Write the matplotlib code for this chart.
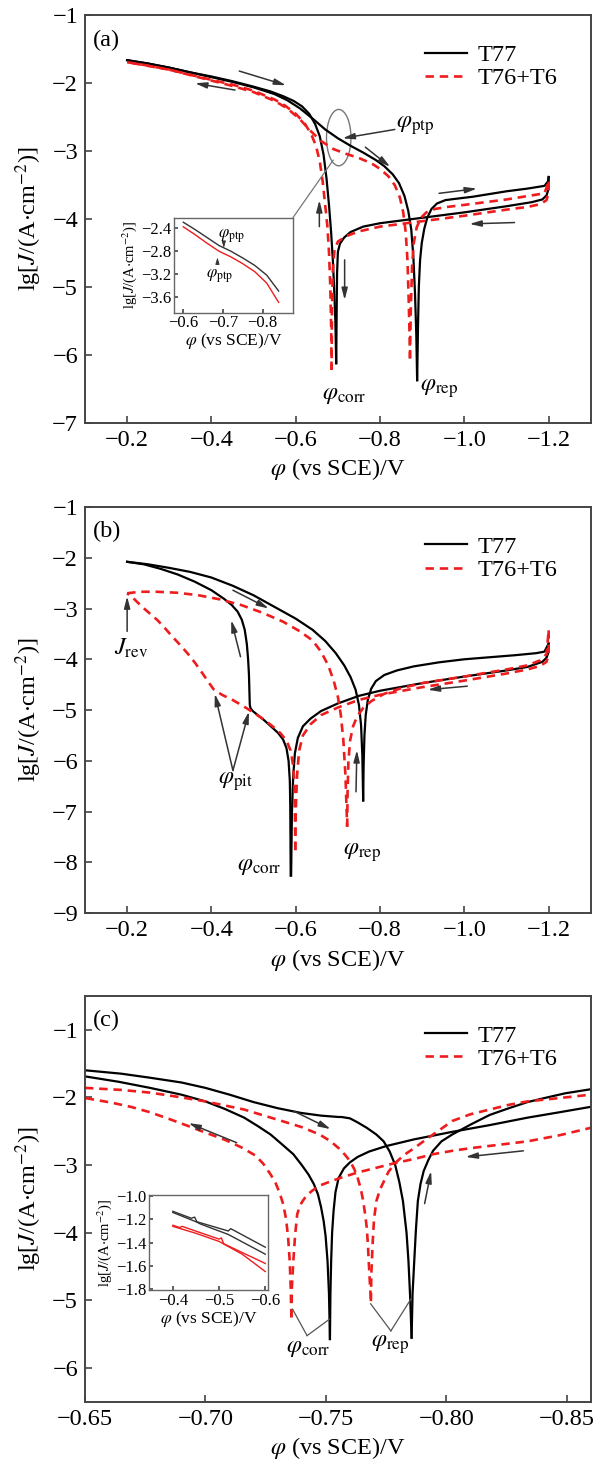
import matplotlib
matplotlib.use('Agg')
import matplotlib.pyplot as plt
from matplotlib.patches import Ellipse, ConnectionPatch

plt.rcParams['font.family'] = ['Liberation Serif', 'DejaVu Serif']
plt.rcParams['mathtext.fontset'] = 'stix'
plt.rcParams['axes.edgecolor'] = '#444444'
plt.rcParams['axes.linewidth'] = 1.4
plt.rcParams['xtick.direction'] = 'in'
plt.rcParams['ytick.direction'] = 'in'
plt.rcParams['xtick.major.size'] = 5
plt.rcParams['ytick.major.size'] = 5
plt.rcParams['xtick.major.width'] = 1.2
plt.rcParams['ytick.major.width'] = 1.2
plt.rcParams['xtick.color'] = '#444444'
plt.rcParams['ytick.color'] = '#444444'
plt.rcParams['xtick.labelcolor'] = 'black'
plt.rcParams['ytick.labelcolor'] = 'black'

# ---------------- panel (a): potential (V vs SCE) and lg J ----------------
a_t77_anod_v = [-0.696, -0.694, -0.691, -0.688, -0.684, -0.679, -0.673, -0.666, -0.657, -0.646, -0.632, -0.615, -0.595, -0.57, -0.54, -0.50, -0.45, -0.40, -0.35, -0.30, -0.25, -0.20]
a_t77_anod_j = [-6.12, -5.5, -5.0, -4.6, -4.2, -3.8, -3.4, -3.05, -2.78, -2.60, -2.45, -2.34, -2.26, -2.19, -2.12, -2.05, -1.97, -1.90, -1.84, -1.77, -1.71, -1.66]
a_t77_rev_v = [-0.20, -0.25, -0.30, -0.35, -0.40, -0.45, -0.50, -0.55, -0.58, -0.61, -0.64, -0.67, -0.70, -0.73, -0.76, -0.79, -0.81, -0.83, -0.845, -0.858, -0.867, -0.874, -0.879, -0.883, -0.886, -0.888]
a_t77_rev_j = [-1.66, -1.71, -1.77, -1.84, -1.91, -1.98, -2.06, -2.16, -2.25, -2.37, -2.52, -2.68, -2.81, -2.92, -3.02, -3.13, -3.22, -3.34, -3.47, -3.66, -3.88, -4.15, -4.55, -5.1, -5.7, -6.37]
a_t77_cat2_v = [-0.888, -0.890, -0.892, -0.895, -0.899, -0.905, -0.912, -0.922, -0.935, -0.955, -0.98, -1.02, -1.06, -1.10, -1.15, -1.19, -1.198, -1.20]
a_t77_cat2_j = [-6.37, -5.6, -5.0, -4.6, -4.35, -4.14, -3.98, -3.85, -3.77, -3.72, -3.70, -3.67, -3.63, -3.59, -3.55, -3.51, -3.45, -3.38]
a_t77_cat1_v = [-1.20, -1.20, -1.195, -1.185, -1.16, -1.10, -1.00, -0.90, -0.80, -0.76, -0.73, -0.715, -0.705, -0.700, -0.698, -0.697, -0.696]
a_t77_cat1_j = [-3.38, -3.55, -3.65, -3.71, -3.75, -3.81, -3.90, -3.98, -4.06, -4.11, -4.19, -4.27, -4.36, -4.48, -4.8, -5.4, -6.12]

a_t76_anod_v = [-0.685, -0.684, -0.682, -0.679, -0.675, -0.670, -0.664, -0.657, -0.648, -0.636, -0.62, -0.60, -0.575, -0.55, -0.50, -0.45, -0.40, -0.30, -0.20]
a_t76_anod_j = [-6.22, -5.6, -5.0, -4.5, -4.1, -3.8, -3.45, -3.15, -2.92, -2.74, -2.58, -2.45, -2.33, -2.24, -2.11, -2.02, -1.95, -1.80, -1.69]
a_t76_rev_v = [-0.20, -0.25, -0.30, -0.35, -0.40, -0.45, -0.50, -0.55, -0.58, -0.61, -0.635, -0.66, -0.69, -0.72, -0.75, -0.78, -0.80, -0.82, -0.835, -0.847, -0.855, -0.861, -0.865, -0.868, -0.870, -0.871]
a_t76_rev_j = [-1.69, -1.74, -1.80, -1.88, -1.96, -2.04, -2.13, -2.26, -2.37, -2.53, -2.70, -2.85, -2.97, -3.04, -3.10, -3.18, -3.26, -3.37, -3.50, -3.68, -3.90, -4.2, -4.6, -5.2, -5.7, -6.05]
a_t76_cat2_v = [-0.871, -0.873, -0.876, -0.880, -0.887, -0.897, -0.91, -0.93, -0.96, -1.00, -1.05, -1.10, -1.15, -1.19, -1.20]
a_t76_cat2_j = [-6.05, -5.3, -4.7, -4.35, -4.12, -3.98, -3.90, -3.85, -3.82, -3.79, -3.75, -3.71, -3.66, -3.62, -3.45]
a_t76_cat1_v = [-1.20, -1.20, -1.195, -1.18, -1.15, -1.10, -1.00, -0.90, -0.80, -0.75, -0.72, -0.70, -0.692, -0.688, -0.686, -0.685]
a_t76_cat1_j = [-3.45, -3.60, -3.72, -3.78, -3.82, -3.86, -3.95, -4.03, -4.11, -4.18, -4.25, -4.33, -4.45, -4.75, -5.3, -6.22]

# inset of (a)
ia_v = [-0.60, -0.63, -0.66, -0.69, -0.72, -0.75, -0.78, -0.81, -0.84]
ia_t77_j = [-2.29, -2.42, -2.56, -2.70, -2.80, -2.92, -3.05, -3.22, -3.50]
ia_t76_j = [-2.37, -2.51, -2.66, -2.80, -2.90, -3.02, -3.16, -3.36, -3.70]

# ---------------- panel (b) ----------------
b_t77_anod_v = [-0.588, -0.5875, -0.587, -0.586, -0.583, -0.578, -0.570, -0.558, -0.541, -0.525, -0.510, -0.498, -0.493, -0.491, -0.490, -0.489, -0.487, -0.484, -0.479, -0.472, -0.462, -0.448, -0.43, -0.40, -0.36, -0.32, -0.28, -0.24, -0.20]
b_t77_anod_j = [-8.26, -7.5, -6.9, -6.4, -6.0, -5.75, -5.58, -5.45, -5.32, -5.20, -5.10, -5.02, -4.97, -4.90, -4.6, -4.3, -4.0, -3.7, -3.42, -3.22, -3.06, -2.93, -2.81, -2.64, -2.47, -2.33, -2.22, -2.13, -2.08]
b_t77_rev_v = [-0.20, -0.25, -0.30, -0.35, -0.40, -0.45, -0.50, -0.55, -0.60, -0.64, -0.67, -0.695, -0.715, -0.73, -0.742, -0.750, -0.755, -0.758, -0.760]
b_t77_rev_j = [-2.08, -2.13, -2.20, -2.28, -2.39, -2.55, -2.74, -2.97, -3.20, -3.42, -3.64, -3.88, -4.12, -4.35, -4.60, -4.90, -5.3, -5.9, -6.78]
b_t77_cat2_v = [-0.760, -0.761, -0.763, -0.766, -0.771, -0.779, -0.79, -0.81, -0.84, -0.88, -0.94, -1.00, -1.06, -1.12, -1.17, -1.19, -1.20]
b_t77_cat2_j = [-6.78, -6.1, -5.5, -5.1, -4.8, -4.58, -4.43, -4.31, -4.22, -4.14, -4.06, -4.00, -3.96, -3.92, -3.88, -3.85, -3.69]
b_t77_cat1_v = [-1.20, -1.20, -1.195, -1.185, -1.15, -1.10, -1.00, -0.90, -0.80, -0.75, -0.70, -0.66, -0.635, -0.617, -0.605, -0.598, -0.594, -0.591, -0.589]
b_t77_cat1_j = [-3.69, -3.85, -3.97, -4.05, -4.15, -4.22, -4.34, -4.47, -4.62, -4.72, -4.87, -5.02, -5.17, -5.32, -5.55, -5.85, -6.3, -7.0, -8.26]

b_t76_anod_v = [-0.599, -0.598, -0.597, -0.594, -0.588, -0.578, -0.563, -0.545, -0.523, -0.50, -0.475, -0.45, -0.425, -0.405, -0.393, -0.379, -0.362, -0.344, -0.326, -0.308, -0.29, -0.272, -0.254, -0.236, -0.215, -0.20]
b_t76_anod_j = [-7.76, -7.0, -6.5, -6.1, -5.8, -5.6, -5.45, -5.32, -5.18, -5.05, -4.92, -4.80, -4.70, -4.59, -4.45, -4.28, -4.08, -3.89, -3.72, -3.56, -3.39, -3.23, -3.10, -2.97, -2.80, -2.70]
b_t76_rev_v = [-0.20, -0.23, -0.27, -0.32, -0.37, -0.42, -0.47, -0.52, -0.57, -0.61, -0.64, -0.66, -0.677, -0.69, -0.70, -0.707, -0.713, -0.718, -0.722]
b_t76_rev_j = [-2.70, -2.67, -2.67, -2.69, -2.74, -2.82, -2.93, -3.08, -3.26, -3.45, -3.63, -3.85, -4.12, -4.42, -4.74, -5.1, -5.6, -6.3, -7.30]
b_t76_cat2_v = [-0.722, -0.723, -0.725, -0.729, -0.736, -0.746, -0.76, -0.78, -0.81, -0.85, -0.90, -1.00, -1.10, -1.15, -1.18, -1.195, -1.20]
b_t76_cat2_j = [-7.30, -6.6, -6.0, -5.6, -5.32, -5.12, -4.96, -4.82, -4.68, -4.57, -4.47, -4.34, -4.20, -4.12, -4.02, -3.90, -3.43]
b_t76_cat1_v = [-1.20, -1.20, -1.195, -1.18, -1.15, -1.10, -1.00, -0.90, -0.80, -0.75, -0.70, -0.66, -0.635, -0.617, -0.608, -0.603, -0.600, -0.599]
b_t76_cat1_j = [-3.43, -3.90, -4.05, -4.13, -4.20, -4.28, -4.42, -4.55, -4.70, -4.80, -4.95, -5.10, -5.28, -5.50, -5.8, -6.3, -7.0, -7.76]

# ---------------- panel (c) ----------------
c_t77_anod_v = [-0.7517, -0.7513, -0.7507, -0.7499, -0.7491, -0.7480, -0.7467, -0.7450, -0.7428, -0.7400, -0.7365, -0.7320, -0.7271, -0.7220, -0.7161, -0.7080, -0.7000, -0.6900, -0.6770, -0.6640, -0.6500]
c_t77_anod_j = [-5.57, -4.9, -4.42, -4.05, -3.83, -3.62, -3.43, -3.28, -3.14, -3.00, -2.84, -2.70, -2.55, -2.43, -2.30, -2.17, -2.06, -1.96, -1.86, -1.77, -1.69]
c_t77_rev_v = [-0.650, -0.665, -0.677, -0.690, -0.700, -0.710, -0.720, -0.730, -0.7397, -0.748, -0.7553, -0.7565, -0.7600, -0.7632, -0.7670, -0.7710, -0.7740, -0.7765, -0.7788, -0.7805, -0.7820, -0.7835, -0.7843, -0.7850, -0.7856]
c_t77_rev_j = [-1.60, -1.65, -1.71, -1.78, -1.86, -1.96, -2.07, -2.16, -2.23, -2.27, -2.29, -2.29, -2.31, -2.37, -2.45, -2.55, -2.65, -2.80, -3.00, -3.25, -3.53, -4.00, -4.42, -4.95, -5.55]
c_t77_cat1_v = [-0.7517, -0.7519, -0.7522, -0.7526, -0.7532, -0.7540, -0.7553, -0.7575, -0.7600, -0.7632, -0.7680, -0.7750, -0.7867, -0.8024, -0.8180, -0.8337, -0.8470, -0.8600]
c_t77_cat1_j = [-5.57, -4.9, -4.42, -4.0, -3.68, -3.40, -3.19, -3.05, -2.96, -2.88, -2.80, -2.72, -2.62, -2.51, -2.41, -2.30, -2.22, -2.14]
c_t77_cat2_v = [-0.7856, -0.7860, -0.7867, -0.7874, -0.7882, -0.7893, -0.7906, -0.7925, -0.7945, -0.7980, -0.8024, -0.8102, -0.8180, -0.8260, -0.8337, -0.8420, -0.8494, -0.8600]
c_t77_cat2_j = [-5.55, -4.9, -4.42, -3.95, -3.53, -3.28, -3.09, -2.93, -2.79, -2.65, -2.55, -2.40, -2.26, -2.16, -2.07, -2.00, -1.94, -1.88]

c_t76_anod_v = [-0.7357, -0.7354, -0.7350, -0.7343, -0.7334, -0.7323, -0.7310, -0.7292, -0.7271, -0.7240, -0.7208, -0.7150, -0.7083, -0.7000, -0.6926, -0.6850, -0.6770, -0.6690, -0.6613, -0.6500]
c_t76_anod_j = [-5.25, -4.8, -4.42, -4.05, -3.78, -3.58, -3.43, -3.27, -3.14, -2.98, -2.86, -2.74, -2.63, -2.52, -2.42, -2.32, -2.22, -2.14, -2.08, -2.01]
c_t76_rev_v = [-0.650, -0.665, -0.677, -0.690, -0.700, -0.7161, -0.7318, -0.7400, -0.7475, -0.7520, -0.7553, -0.7580, -0.7600, -0.7618, -0.7632, -0.7645, -0.7655, -0.7664, -0.7670, -0.7675, -0.7678, -0.7683, -0.7687]
c_t76_rev_j = [-1.86, -1.89, -1.93, -2.00, -2.06, -2.18, -2.35, -2.44, -2.55, -2.65, -2.75, -2.85, -2.94, -3.06, -3.19, -3.35, -3.53, -3.75, -3.93, -4.2, -4.42, -4.75, -5.01]
c_t76_cat1_v = [-0.7357, -0.7359, -0.7365, -0.7372, -0.7381, -0.7392, -0.7404, -0.7420, -0.7443, -0.7470, -0.7506, -0.7560, -0.7632, -0.7710, -0.7788, -0.7867, -0.7945, -0.8024, -0.8102, -0.8220, -0.8337, -0.8470, -0.8600]
c_t76_cat1_j = [-5.25, -4.8, -4.42, -4.05, -3.73, -3.60, -3.53, -3.45, -3.38, -3.31, -3.26, -3.19, -3.11, -3.04, -2.97, -2.91, -2.84, -2.79, -2.75, -2.70, -2.65, -2.56, -2.45]
c_t76_cat2_v = [-0.7687, -0.7689, -0.7694, -0.7700, -0.7710, -0.7725, -0.7741, -0.7760, -0.7788, -0.7825, -0.7867, -0.7905, -0.7945, -0.7985, -0.8024, -0.8100, -0.8180, -0.8260, -0.8337, -0.8470, -0.8600]
c_t76_cat2_j = [-5.01, -4.6, -4.17, -3.8, -3.53, -3.36, -3.24, -3.10, -2.97, -2.85, -2.75, -2.65, -2.55, -2.45, -2.35, -2.25, -2.18, -2.11, -2.06, -2.01, -1.96]

# inset of (c)
ic_t77_v1 = [-0.40, -0.44, -0.447, -0.452, -0.52, -0.525, -0.53, -0.60]
ic_t77_j1 = [-1.13, -1.19, -1.18, -1.22, -1.30, -1.28, -1.29, -1.44]
ic_t77_v2 = [-0.40, -0.45, -0.46, -0.52, -0.60]
ic_t77_j2 = [-1.14, -1.22, -1.24, -1.33, -1.50]
ic_t76_v1 = [-0.40, -0.415, -0.42, -0.50, -0.505, -0.51, -0.60]
ic_t76_j1 = [-1.25, -1.27, -1.26, -1.37, -1.36, -1.41, -1.58]
ic_t76_v2 = [-0.40, -0.45, -0.50, -0.55, -0.60]
ic_t76_j2 = [-1.26, -1.32, -1.39, -1.50, -1.65]

blk = 'black'
red = '#ee1c1c'
dash = (0, (3.2, 2.2))
arrow_col = '#333333'
fs = 17.5
ins_fs = 12

fig = plt.figure(figsize=(5.93, 14.61), dpi=100)

ax_a = fig.add_axes([0.1433, 0.7105, 0.853, 0.279])
ax_b = fig.add_axes([0.1433, 0.3750, 0.853, 0.278])
ax_c = fig.add_axes([0.1433, 0.0404, 0.853, 0.278])


def draw_set(ax, segs, col, ls, lw, label=None):
    for k, (v, j) in enumerate(segs):
        ax.plot(v, j, color=col, linestyle=ls, lw=lw, label=label if k == 0 else None)


def arr(ax, start, end, lw=1.1):
    ax.annotate('', xy=end, xytext=start,
                arrowprops=dict(arrowstyle='-|>,head_length=0.7,head_width=0.18',
                                color=arrow_col, lw=lw, shrinkA=0, shrinkB=0))


def style_main(ax, letter):
    ax.set_xlabel(r'$\varphi$ (vs SCE)/V', fontsize=fs, labelpad=4)
    ax.set_ylabel(r'lg[$J$/(A$\cdot$cm$^{-2}$)]', fontsize=fs, labelpad=6)
    ax.tick_params(labelsize=fs, top=False, right=False, pad=5)
    ax.text(0.015, 0.965, letter, transform=ax.transAxes, fontsize=fs, va='top', ha='left')
    ax.legend(loc='upper right', bbox_to_anchor=(0.962, 0.965), frameon=False,
              fontsize=fs, handlelength=1.75, handletextpad=0.4, labelspacing=0.05,
              borderaxespad=0.2)


def style_inset(ax):
    ax.tick_params(labelsize=ins_fs, length=3, pad=2, top=False, right=False)
    ax.set_xlabel(r'$\varphi$ (vs SCE)/V', fontsize=12.5, labelpad=0)
    ax.set_ylabel(r'lg[$J$/(A$\cdot$cm$^{-2}$)]', fontsize=10.5, labelpad=1)
    for s in ax.spines.values():
        s.set_color('#666666')
        s.set_linewidth(1.0)


# ---------- (a) ----------
draw_set(ax_a, [(a_t77_anod_v, a_t77_anod_j), (a_t77_rev_v, a_t77_rev_j),
                (a_t77_cat2_v, a_t77_cat2_j), (a_t77_cat1_v, a_t77_cat1_j)], blk, '-', 1.6, 'T77')
draw_set(ax_a, [(a_t76_anod_v, a_t76_anod_j), (a_t76_rev_v, a_t76_rev_j),
                (a_t76_cat2_v, a_t76_cat2_j), (a_t76_cat1_v, a_t76_cat1_j)], red, dash, 1.9, 'T76+T6')
ax_a.set_xlim(-0.1, -1.3)
ax_a.set_ylim(-7, -1)
ax_a.set_xticks([-0.2, -0.4, -0.6, -0.8, -1.0, -1.2])
ax_a.set_yticks([-1, -2, -3, -4, -5, -6, -7])
style_main(ax_a, '(a)')

ell = Ellipse((-0.702, -2.80), 0.058, 0.83, fill=False, edgecolor='#777777', lw=1.0)
ax_a.add_patch(ell)
arr(ax_a, (-0.466, -1.82), (-0.577, -2.03))
arr(ax_a, (-0.456, -2.10), (-0.361, -2.00))
arr(ax_a, (-0.765, -2.94), (-0.824, -3.23))
arr(ax_a, (-0.656, -4.11), (-0.656, -3.72))
arr(ax_a, (-0.716, -4.60), (-0.716, -5.19))
arr(ax_a, (-0.940, -3.62), (-1.030, -3.55))
arr(ax_a, (-1.119, -4.05), (-1.012, -4.07))
arr(ax_a, (-0.835, -2.68), (-0.711, -2.81))
ax_a.text(-0.838, -2.62, r'$\varphi_{\rm ptp}$', fontsize=fs, va='center', ha='left')
ax_a.text(-0.716, -6.59, r'$\varphi_{\rm corr}$', fontsize=fs, va='center', ha='center')
ax_a.text(-0.94, -6.49, r'$\varphi_{\rm rep}$', fontsize=fs, va='center', ha='center')

# inset (a)
ins_a = fig.add_axes([0.293, 0.786, 0.201, 0.065])
ins_a.plot(ia_v, ia_t77_j, color='#333333', lw=1.0)
ins_a.plot(ia_v, ia_t76_j, color=red, lw=1.0)
ins_a.set_xlim(-0.576, -0.876)
ins_a.set_ylim(-3.88, -2.21)
ins_a.set_xticks([-0.6, -0.7, -0.8])
ins_a.set_yticks([-2.4, -2.8, -3.2, -3.6])
style_inset(ins_a)
ins_a.annotate('', xy=(-0.702, -2.79), xytext=(-0.702, -2.64),
               arrowprops=dict(arrowstyle='-|>,head_length=0.4,head_width=0.12', color='#333333', lw=0.6))
ins_a.text(-0.722, -2.54, r'$\varphi_{\rm ptp}$', fontsize=ins_fs, ha='center', va='center')
ins_a.annotate('', xy=(-0.686, -2.86), xytext=(-0.686, -3.08),
               arrowprops=dict(arrowstyle='-|>,head_length=0.4,head_width=0.12', color='#333333', lw=0.6))
ins_a.text(-0.690, -3.24, r'$\varphi_{\rm ptp}$', fontsize=ins_fs, ha='center', va='center')

con = ConnectionPatch(xyA=(1.0, 1.0), coordsA=ins_a.transAxes,
                      xyB=(-0.689, -3.13), coordsB=ax_a.transData,
                      color='#777777', lw=0.9)
fig.add_artist(con)

# ---------- (b) ----------
draw_set(ax_b, [(b_t77_anod_v, b_t77_anod_j), (b_t77_rev_v, b_t77_rev_j),
                (b_t77_cat2_v, b_t77_cat2_j), (b_t77_cat1_v, b_t77_cat1_j)], blk, '-', 1.6, 'T77')
draw_set(ax_b, [(b_t76_anod_v, b_t76_anod_j), (b_t76_rev_v, b_t76_rev_j),
                (b_t76_cat2_v, b_t76_cat2_j), (b_t76_cat1_v, b_t76_cat1_j)], red, dash, 1.9, 'T76+T6')
ax_b.set_xlim(-0.1, -1.3)
ax_b.set_ylim(-9, -1)
ax_b.set_xticks([-0.2, -0.4, -0.6, -0.8, -1.0, -1.2])
ax_b.set_yticks([-1, -2, -3, -4, -5, -6, -7, -8, -9])
style_main(ax_b, '(b)')

arr(ax_b, (-0.451, -2.64), (-0.536, -3.00))
arr(ax_b, (-0.469, -3.95), (-0.447, -3.23))
arr(ax_b, (-0.200, -3.45), (-0.200, -2.76))
arr(ax_b, (-1.007, -4.53), (-0.913, -4.60))
arr(ax_b, (-0.743, -6.61), (-0.745, -5.79))
arr(ax_b, (-0.451, -6.19), (-0.408, -4.68))
arr(ax_b, (-0.451, -6.19), (-0.489, -5.03))
ax_b.text(-0.209, -3.78, r'$J_{\rm rev}$', fontsize=fs, ha='center', va='center')
ax_b.text(-0.456, -6.40, r'$\varphi_{\rm pit}$', fontsize=fs, ha='center', va='center')
ax_b.text(-0.514, -8.09, r'$\varphi_{\rm corr}$', fontsize=fs, ha='center', va='center')
ax_b.text(-0.757, -7.80, r'$\varphi_{\rm rep}$', fontsize=fs, ha='center', va='center')

# ---------- (c) ----------
draw_set(ax_c, [(c_t77_anod_v, c_t77_anod_j), (c_t77_rev_v, c_t77_rev_j),
                (c_t77_cat1_v, c_t77_cat1_j), (c_t77_cat2_v, c_t77_cat2_j)], blk, '-', 1.6, 'T77')
draw_set(ax_c, [(c_t76_anod_v, c_t76_anod_j), (c_t76_rev_v, c_t76_rev_j),
                (c_t76_cat1_v, c_t76_cat1_j), (c_t76_cat2_v, c_t76_cat2_j)], red, dash, 1.9, 'T76+T6')
ax_c.set_xlim(-0.65, -0.86)
ax_c.set_ylim(-6.5, -0.5)
ax_c.set_xticks([-0.65, -0.70, -0.75, -0.80, -0.85])
ax_c.set_yticks([-1, -2, -3, -4, -5, -6])
style_main(ax_c, '(c)')

arr(ax_c, (-0.713, -2.67), (-0.693, -2.38))
arr(ax_c, (-0.7365, -2.20), (-0.752, -2.47))
arr(ax_c, (-0.832, -2.79), (-0.808, -2.88))
arr(ax_c, (-0.791, -3.57), (-0.7937, -3.09))
for tip in [(-0.7362, -5.13), (-0.7514, -5.28)]:
    ax_c.plot([-0.7422, tip[0]], [-5.52, tip[1]], color='#555555', lw=0.9)
for tip in [(-0.7686, -5.05), (-0.7853, -4.98)]:
    ax_c.plot([-0.7770, tip[0]], [-5.45, tip[1]], color='#555555', lw=0.9)
ax_c.text(-0.7428, -5.71, r'$\varphi_{\rm corr}$', fontsize=fs, ha='center', va='center')
ax_c.text(-0.7765, -5.65, r'$\varphi_{\rm rep}$', fontsize=fs, ha='center', va='center')

# inset (c)
ins_c = fig.add_axes([0.251, 0.117, 0.201, 0.065])
ins_c.plot(ic_t77_v1, ic_t77_j1, color='#333333', lw=1.0)
ins_c.plot(ic_t77_v2, ic_t77_j2, color='#333333', lw=1.0)
ins_c.plot(ic_t76_v1, ic_t76_j1, color=red, lw=1.0)
ins_c.plot(ic_t76_v2, ic_t76_j2, color=red, lw=1.0)
ins_c.set_xlim(-0.348, -0.606)
ins_c.set_ylim(-1.81, -0.99)
ins_c.set_xticks([-0.4, -0.5, -0.6])
ins_c.set_yticks([-1.0, -1.2, -1.4, -1.6, -1.8])
style_inset(ins_c)

fig.savefig('out.png', dpi=100)
